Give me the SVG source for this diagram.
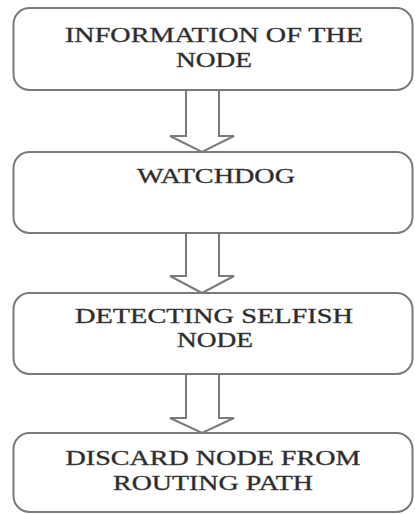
<svg xmlns="http://www.w3.org/2000/svg" width="415" height="514" viewBox="0 0 415 514">
<style>
.box{fill:#fff;stroke:#7a7a7a;stroke-width:2}
.arr{fill:#fff;stroke:#7a7a7a;stroke-width:2;stroke-linejoin:miter}
.t{font-family:"Liberation Serif","Times New Roman",serif;font-size:22px;fill:#2a2a2a;stroke:#444;stroke-width:0.4;text-anchor:middle}
</style>
<rect width="415" height="514" fill="#fff"/>
<g id="connectors">
<path class="arr" d="M186,90 V136 H170 L202,152 L234,136 H219 V90"/>
<path class="arr" d="M186,233 V276 H170 L202,293 L234,276 H219 V233"/>
<path class="arr" d="M186,374 V418 H170 L202,433 L234,418 H219 V374"/>
</g>
<g id="node1">
<rect class="box" x="13.5" y="8" width="399" height="82" rx="16"/>
<text class="t" x="214" y="42" textLength="298" lengthAdjust="spacingAndGlyphs">INFORMATION OF THE</text>
<text class="t" x="214" y="67" textLength="76" lengthAdjust="spacingAndGlyphs">NODE</text>
</g>
<g id="node2">
<rect class="box" x="13.5" y="152" width="399" height="81" rx="16"/>
<text class="t" x="216" y="183" textLength="158" lengthAdjust="spacingAndGlyphs">WATCHDOG</text>
</g>
<g id="node3">
<rect class="box" x="13.5" y="293" width="399" height="81" rx="16"/>
<text class="t" x="214" y="323" textLength="278" lengthAdjust="spacingAndGlyphs">DETECTING SELFISH</text>
<text class="t" x="215" y="347" textLength="76" lengthAdjust="spacingAndGlyphs">NODE</text>
</g>
<g id="node4">
<rect class="box" x="13.5" y="433" width="399" height="79" rx="16"/>
<text class="t" x="213" y="465" textLength="295" lengthAdjust="spacingAndGlyphs">DISCARD NODE FROM</text>
<text class="t" x="213" y="490" textLength="200" lengthAdjust="spacingAndGlyphs">ROUTING PATH</text>
</g>
</svg>
